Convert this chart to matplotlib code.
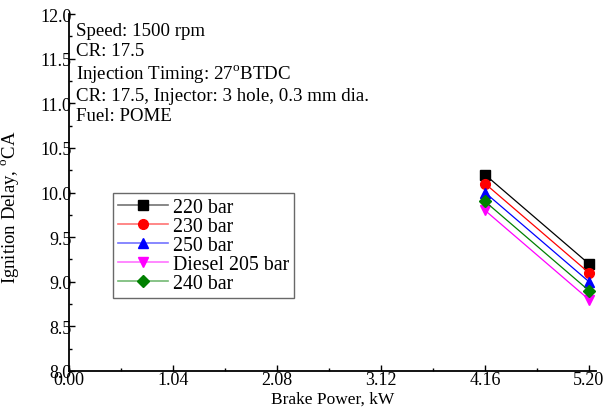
import numpy as np
import matplotlib
matplotlib.use('Agg')
import matplotlib.pyplot as plt
from matplotlib.ticker import MultipleLocator, FormatStrFormatter
from matplotlib.colors import to_rgb

plt.rcParams['font.family'] = 'Liberation Serif'
plt.rcParams['mathtext.fontset'] = 'custom'
plt.rcParams['mathtext.rm'] = 'Liberation Serif'

# brake power (kW)
bp = [4.16, 5.20]

# ignition delay (deg CA)
p220 = [10.2, 9.2]
p230 = [10.1, 9.1]
p250 = [10.0, 9.0]
dsl205 = [9.8, 8.8]
p240 = [9.9, 8.9]

series = [
    ('220 bar', p220, 'black', 's'),
    ('230 bar', p230, 'red', 'o'),
    ('250 bar', p250, 'blue', '^'),
    ('Diesel 205 bar', dsl205, 'magenta', 'v'),
    ('240 bar', p240, 'green', 'D'),
]

fig = plt.figure(figsize=(6.06, 4.14), dpi=100)
ax = fig.add_axes([69/606, 42/414, 527/606, 357/414])

for lab, yy, c, m in series:
    ms = 6 if m == 'D' else 7
    ax.plot(bp, yy, color=c, marker=m, markersize=ms, linewidth=0.9, label=lab)

ax.set_xlim(0, 5.27)
ax.set_ylim(8.0, 12.0)
ax.set_xticks([0.00, 1.04, 2.08, 3.12, 4.16, 5.20])
ax.xaxis.set_major_formatter(FormatStrFormatter('%.2f'))
ax.xaxis.set_minor_locator(MultipleLocator(0.52))
ax.yaxis.set_major_locator(MultipleLocator(0.5))
ax.yaxis.set_minor_locator(MultipleLocator(0.25))
ax.yaxis.set_major_formatter(FormatStrFormatter('%.1f'))

ax.spines['top'].set_visible(False)
ax.spines['right'].set_visible(False)
ax.spines['left'].set_linewidth(1.3)
ax.spines['bottom'].set_linewidth(1.3)
ax.tick_params(which='both', direction='in', labelsize=13)
ax.tick_params(which='major', length=4, width=1, pad=0)
ax.tick_params(which='minor', length=2, width=1)
ax.tick_params(axis='y', pad=-2)

ax.set_xlabel('Brake Power, kW', fontsize=12.5, labelpad=2)
ax.set_ylabel(r'Ignition Delay, $^\mathrm{o}$CA', fontsize=13.5, labelpad=4)
ax.yaxis.set_label_coords(-0.092, 0.46)

info = ['Speed: 1500 rpm',
        'CR: 17.5',
        r'Injection Timing: 27$^\mathrm{o}$BTDC',
        'CR: 17.5, Injector: 3 hole, 0.3 mm dia.',
        'Fuel: POME']
ax.text(0.013, 0.978, '\n'.join(info), transform=ax.transAxes, fontsize=13.6,
        va='top', ha='left', linespacing=1.22)

leg = ax.legend(loc='upper left', bbox_to_anchor=(0.0835, 0.4986), fontsize=14.3,
                frameon=True, fancybox=False, edgecolor='#444444',
                borderpad=0.25, labelspacing=0.0, handlelength=2.5,
                handletextpad=0.25, borderaxespad=0)
leg.get_frame().set_linewidth(1.0)
for h, (lab, yy, c, m) in zip(leg.get_lines(), series):
    light = tuple(0.45 + 0.55 * v for v in to_rgb(c))
    h.set_color(light)
    h.set_markerfacecolor(c)
    h.set_markeredgecolor(c)
    h.set_linewidth(1.2)

fig.savefig('out.png', dpi=100)
